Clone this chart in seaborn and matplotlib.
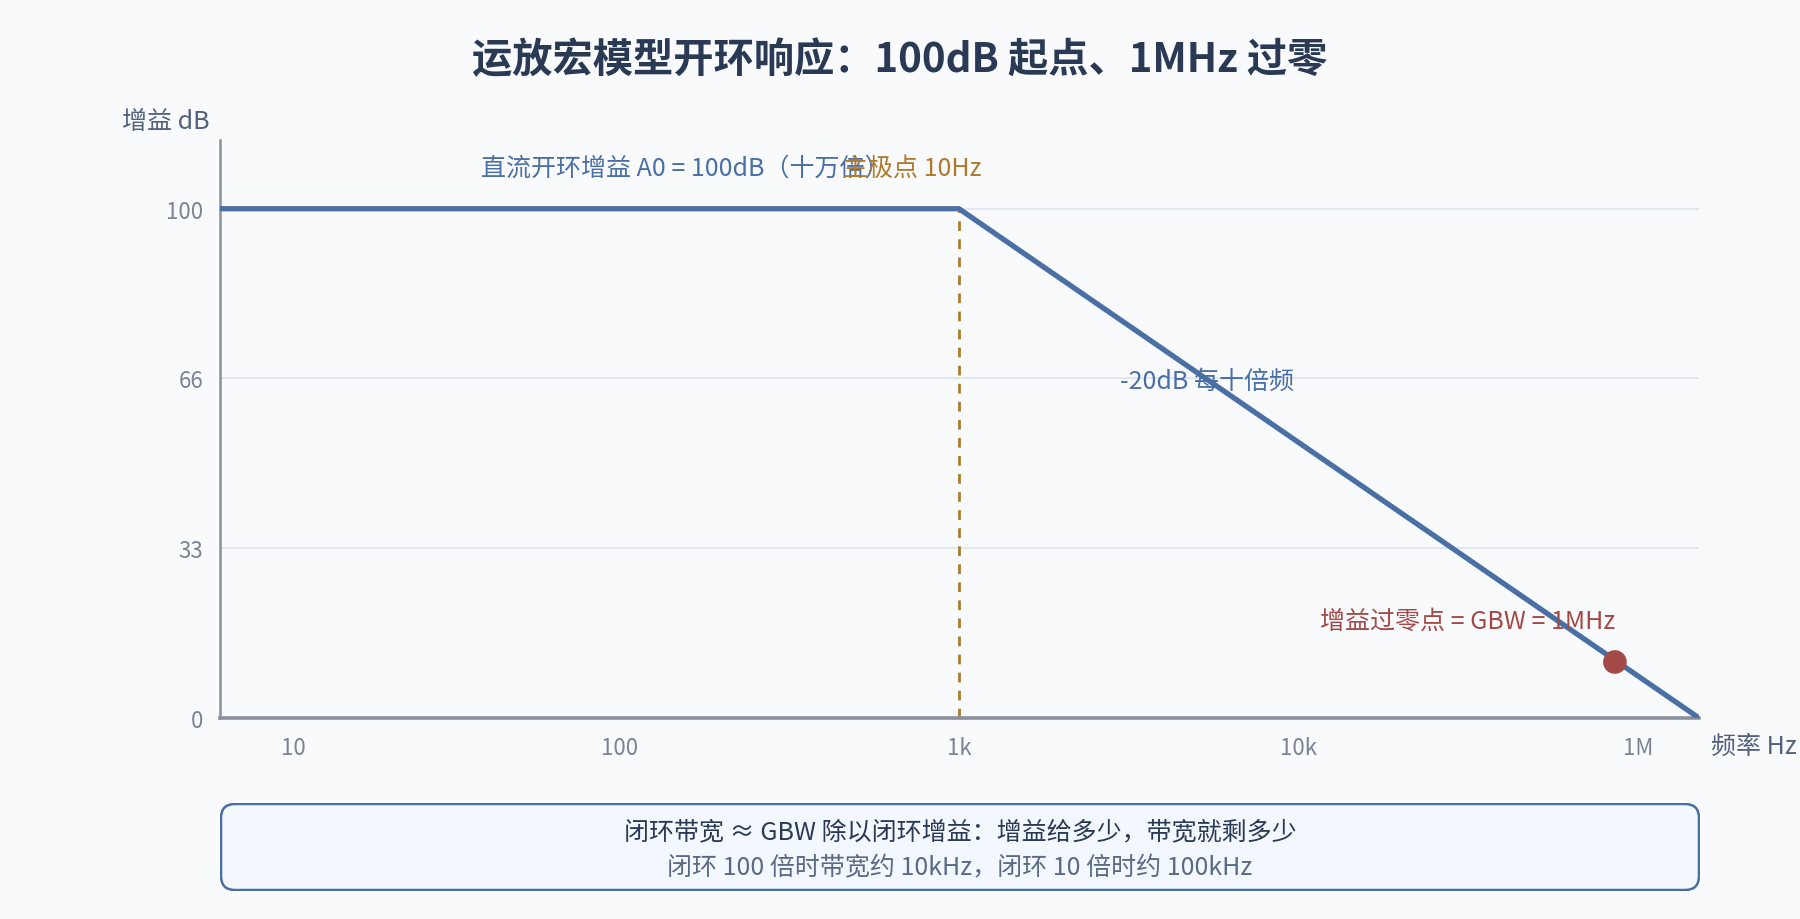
import matplotlib
matplotlib.use("Agg")
import matplotlib.pyplot as plt
import seaborn as sns
import pandas as pd
from matplotlib.patches import FancyBboxPatch

# 数据：x 轴按“十倍频位置”计（1 = 10Hz 刻度处）
tick_pos = [1, 1.97, 2.98, 3.99, 5]
tick_labels = ["10", "100", "1k", "10k", "1M"]
y_ticks = [0, 100 / 3, 200 / 3, 100]
y_tick_labels = ["0", "33", "66", "100"]

line_x = [0.783, 2.98, 5.18]
line_gain = [100, 100, 0]
pole_x = 2.98
cross_x = [4.93]
cross_gain = [11]

BLUE = "#4a6fa5"
ORANGE = "#b07a2e"
RED = "#a34a47"
DARK = "#2a3a55"
GRAY = "#7a8494"
BG = "#f9fafc"

sns.set_theme(style="white")
plt.rcParams["font.family"] = ["Noto Sans CJK SC", "DejaVu Sans"]

fig = plt.figure(figsize=(18, 9.2), dpi=100, facecolor=BG)
ax = fig.add_axes([220 / 1800, 1 - 719 / 920, 1479 / 1800, 578 / 920])
ax.set_facecolor(BG)

df = pd.DataFrame({"x": line_x, "gain": line_gain})
for yv in y_ticks[1:]:
    ax.axhline(yv, color="#e1e7f0", lw=1.5, zorder=0)
ax.plot([pole_x, pole_x], [0, 100], color=ORANGE, lw=2, linestyle=(0, (3.5, 3)), zorder=2)
sns.lineplot(data=df, x="x", y="gain", color=BLUE, lw=3.8, ax=ax, zorder=3)
sns.scatterplot(x=cross_x, y=cross_gain, color=RED, s=290, edgecolor="none", ax=ax, zorder=4)

ax.set_xlim(0.783, 5.18)
ax.set_ylim(0, 113.5)
ax.set_xticks(tick_pos)
ax.set_xticklabels(tick_labels)
ax.set_yticks(y_ticks)
ax.set_yticklabels(y_tick_labels)
ax.tick_params(axis="both", length=0, labelsize=16, labelcolor=GRAY)
ax.tick_params(axis="x", pad=13)
ax.tick_params(axis="y", pad=12)
ax.set_xlabel("")
ax.set_ylabel("")
for s in ["top", "right"]:
    ax.spines[s].set_visible(False)
ax.spines["left"].set_color("#8a909c")
ax.spines["left"].set_linewidth(1.8)
ax.spines["bottom"].set_color("#8a909c")
ax.spines["bottom"].set_linewidth(2.6)

ax.text(2.165, 108, "直流开环增益 A0 = 100dB（十万倍）", color=BLUE, fontsize=18,
        ha="center", va="center")
ax.text(2.84, 108, "主极点 10Hz", color=ORANGE, fontsize=18, ha="center", va="center")
ax.text(3.458, 66.2, "-20dB 每十倍频", color=BLUE, fontsize=18, ha="left", va="center")
ax.text(4.93, 19, "增益过零点 = GBW = 1MHz", color=RED, fontsize=18, ha="right", va="center")

fig.text(0.5, 1 - 61 / 920, "运放宏模型开环响应：100dB 起点、1MHz 过零", fontsize=29,
         fontweight="bold", color=DARK, ha="center", va="center")
fig.text(166 / 1800, 1 - 122 / 920, "增益 dB", fontsize=18, color="#52627e", ha="center", va="center")
fig.text(1711 / 1800, 1 - 747 / 920, "频率 Hz", fontsize=18, color="#52627e", ha="left", va="center")

# 底部说明框
bx = fig.add_axes([220 / 1800, 1 - 892 / 920, 1480 / 1800, 88 / 920])
bx.set_xlim(0, 1480)
bx.set_ylim(0, 88)
bx.axis("off")
bx.add_patch(FancyBboxPatch((1, 1), 1478, 86, boxstyle="round,pad=0,rounding_size=14",
                            facecolor="#f3f7fe", edgecolor=BLUE, lw=1.8))
bx.text(740, 60, "闭环带宽 ≈ GBW 除以闭环增益：增益给多少，带宽就剩多少", fontsize=18,
        color=DARK, ha="center", va="center")
bx.text(740, 24, "闭环 100 倍时带宽约 10kHz，闭环 10 倍时约 100kHz", fontsize=18,
        color="#5a6a85", ha="center", va="center")

fig.savefig("out.png", dpi=100, facecolor=BG)
